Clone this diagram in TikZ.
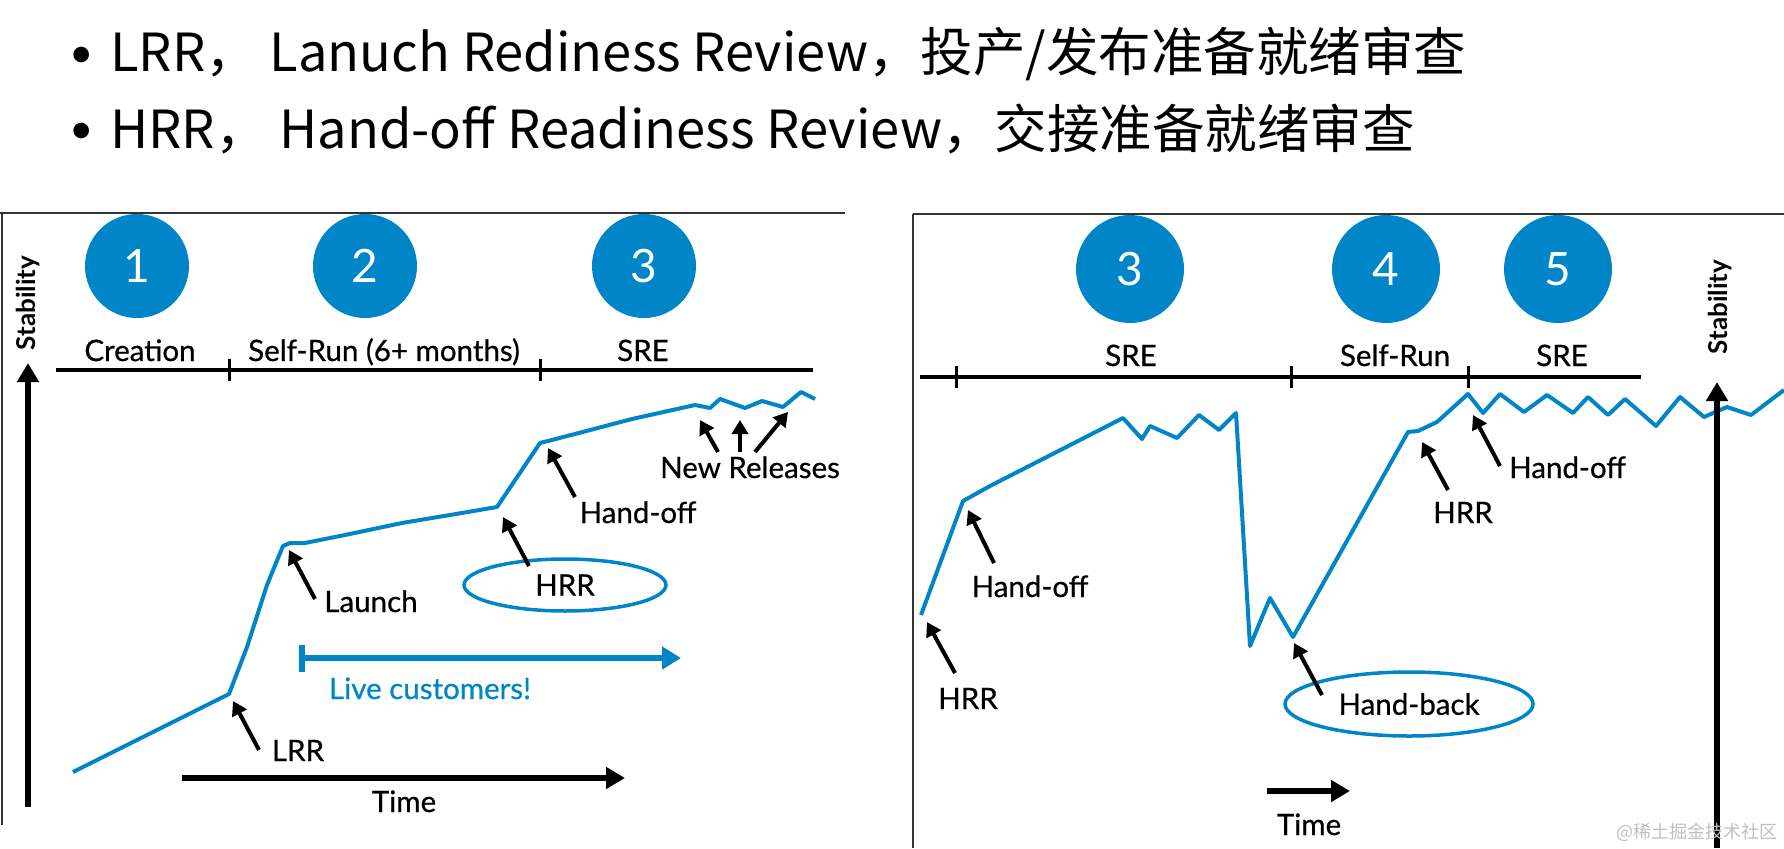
\documentclass[tikz,border=0pt]{standalone}
\usepackage{fontspec}
\setmainfont{Lato}
\newfontfamily\cjkfont{Noto Sans CJK SC}
\newfontfamily\figfont[FakeBold=0.6]{Lato}
\usetikzlibrary{arrows.meta,shapes.geometric}
\definecolor{srblue}{RGB}{0,134,200}
\newcommand{\lblsize}{\figfont\fontsize{29.5}{36}\selectfont}

\begin{document}
\begin{tikzpicture}[x=1pt,y=-1pt,
	curve/.style={srblue, line width=4pt, line join=round},
	phase/.style={circle, fill=srblue, minimum size=104pt, inner sep=0pt, text=white, font=\fontsize{46}{50}\selectfont},
	lbl/.style={anchor=base, inner sep=0pt, font=\lblsize},
	pointer/.style={line width=4pt, -{Triangle[length=14pt,width=16pt]}},
	bigarrow/.style={line width=6pt, -{Triangle[length=19pt,width=21pt]}},
	timeline/.style={line width=3.5pt},
	tick/.style={line width=3pt},
	review/.style={ellipse, draw=srblue, line width=3.5pt, inner sep=0pt, font=\lblsize},
	frame/.style={black!80, line width=2pt},
	axislbl/.style={rotate=90, inner sep=0pt, font=\bfseries\fontsize{26}{30}\selectfont}]
	%%%%% START %%%%%
	\useasboundingbox (0,0) rectangle (1784,848);
	
	% title
	\node[font=\fontsize{42}{42}\selectfont] (bul1) at (82,57) {•};
	\node[font=\fontsize{42}{42}\selectfont] (bul2) at (82,133) {•};
	\node[anchor=base west, inner sep=0pt, font=\cjkfont\fontsize{52.5}{60}\selectfont] (lrrline) at (110,72) {LRR， Lanuch Rediness Review，投产/发布准备就绪审查};
	\node[anchor=base west, inner sep=0pt, font=\cjkfont\fontsize{52.5}{60}\selectfont] (hrrline) at (110,148) {HRR， Hand-off Readiness Review，交接准备就绪审查};
	
	% left panel
	\draw[frame] (0,213) -- (845,213);
	\draw[frame, line width=1.5pt] (2,213) -- (2,825);
	
	\node[phase] (p1) at (137,266) {1};
	\node[phase] (p2) at (365,266) {2};
	\node[phase] (p3) at (644,266) {3};
	
	\node[lbl] (creation) at (140,361) {Creation};
	\node[lbl] (selfrun) at (384,361) {Self-Run (6+ months)};
	\node[lbl] (sreA) at (643,361) {SRE};
	
	\draw[timeline] (56,370) -- (813,370);
	\draw[tick] (229,359) -- (229,381);
	\draw[tick] (540,359) -- (540,381);
	
	\node[axislbl] (stabA) at (28,303) {Stability};
	\coordinate (stabAlo) at (28,807);
	\coordinate (stabAhi) at (28,363);
	
	\draw[curve] (73,772) -- (229,694) -- (247,647) -- (267,585) -- (283,546)
		-- (290,543) -- (305,543) -- (345,535) -- (402,523) -- (450,515) -- (497,507)
		-- (540,443) -- (575,434) -- (632,419) -- (695,405) -- (710,408) -- (720,399)
		-- (745,408) -- (762,401) -- (783,407) -- (801,392) -- (815,399);
	\draw[bigarrow] (stabAlo) -- (stabAhi);
	
	\node[lbl] (lrr) at (298,761) {LRR};
	\coordinate (lrrtail) at (259,750);
	\coordinate (lrrtip) at (233,701);
	\draw[pointer] (lrrtail) -- (lrrtip);
	
	\node[lbl] (launch) at (371,612) {Launch};
	\coordinate (launchtail) at (315,599);
	\coordinate (launchtip) at (289,550);
	\draw[pointer] (launchtail) -- (launchtip);
	
	\node[review, minimum width=202pt, minimum height=52pt] (hrrA) at (565,585) {HRR};
	\coordinate (hrrAtail) at (529,566);
	\coordinate (hrrAtip) at (503,517);
	\draw[pointer] (hrrAtail) -- (hrrAtip);
	
	\node[lbl] (handoffA) at (638,523) {Hand-off};
	\coordinate (handoffAtail) at (575,497);
	\coordinate (handoffAtip) at (548,448);
	\draw[pointer] (handoffAtail) -- (handoffAtip);
	
	\node[lbl] (releases) at (750,478) {New Releases};
	\coordinate (reltailA) at (718,452);
	\coordinate (reltipA) at (700,420);
	\coordinate (reltailB) at (740,452);
	\coordinate (reltipB) at (740,420);
	\coordinate (reltailC) at (755,452);
	\coordinate (reltipC) at (788,412);
	\draw[pointer] (reltailA) -- (reltipA);
	\draw[pointer] (reltailB) -- (reltipB);
	\draw[pointer] (reltailC) -- (reltipC);
	
	\coordinate (livestart) at (299,658);
	\coordinate (liveend) at (681,658);
	\draw[bigarrow, srblue, {Bar[width=27pt]}-{Triangle[length=19pt,width=22pt]}] (livestart) -- (liveend);
	\node[lbl, text=srblue] (live) at (430,699) {Live customers!};
	
	\coordinate (timeAstart) at (182,778);
	\coordinate (timeAend) at (625,778);
	\draw[bigarrow] (timeAstart) -- (timeAend);
	\node[lbl] (timeA) at (404,812) {Time};
	
	% right panel
	\draw[frame, line width=2.5pt] (913,214) -- (1784,214);
	\draw[frame, line width=1.5pt] (913,214) -- (913,848);
	
	\node[phase, minimum size=108pt] (p3r) at (1130,269) {3};
	\node[phase, minimum size=108pt] (p4) at (1386,269) {4};
	\node[phase, minimum size=108pt] (p5) at (1558,269) {5};
	
	\node[lbl] (sreB) at (1131,366) {SRE};
	\node[lbl] (selfrunB) at (1395,366) {Self-Run};
	\node[lbl] (sreC) at (1562,366) {SRE};
	
	\draw[timeline] (920,377) -- (1641,377);
	\draw[tick] (956,366) -- (956,388);
	\draw[tick] (1291,366) -- (1291,388);
	\draw[tick] (1468,366) -- (1468,388);
	
	\draw[curve] (921,615) -- (963,501) -- (990,486) -- (1123,418) -- (1142,439) -- (1150,426)
		-- (1177,438) -- (1199,415) -- (1219,430) -- (1236,413) -- (1250,646) -- (1270,598)
		-- (1293,637) -- (1408,432) -- (1418,431) -- (1437,422) -- (1468,394) -- (1483,413)
		-- (1500,394) -- (1524,412) -- (1547,395) -- (1573,413) -- (1588,397) -- (1608,415)
		-- (1625,399) -- (1656,426) -- (1680,397) -- (1704,417) -- (1727,407) -- (1751,415)
		-- (1784,390);
	
	\node[axislbl] (stabB) at (1720,307) {Stability};
	\coordinate (stabBlo) at (1717,848);
	\coordinate (stabBhi) at (1717,382);
	\draw[bigarrow] (stabBlo) -- (stabBhi);
	
	\node[lbl] (hrrB) at (968,709) {HRR};
	\coordinate (hrrBtail) at (955,673);
	\coordinate (hrrBtip) at (927,622);
	\draw[pointer] (hrrBtail) -- (hrrBtip);
	
	\node[lbl] (handoffB) at (1030,597) {Hand-off};
	\coordinate (handoffBtail) at (994,563);
	\coordinate (handoffBtip) at (968,510);
	\draw[pointer] (handoffBtail) -- (handoffBtip);
	
	\node[review, minimum width=248pt, minimum height=64pt] (handback) at (1409,704) {Hand-back};
	\coordinate (handbacktail) at (1322,695);
	\coordinate (handbacktip) at (1294,643);
	\draw[pointer] (handbacktail) -- (handbacktip);
	
	\node[lbl] (hrrC) at (1463,523) {HRR};
	\coordinate (hrrCtail) at (1448,490);
	\coordinate (hrrCtip) at (1422,442);
	\draw[pointer] (hrrCtail) -- (hrrCtip);
	
	\node[lbl, anchor=base west] (handoffC) at (1509,478) {Hand-off};
	\coordinate (handoffCtail) at (1500,466);
	\coordinate (handoffCtip) at (1473,415);
	\draw[pointer] (handoffCtail) -- (handoffCtip);
	
	\coordinate (timeBstart) at (1267,791);
	\coordinate (timeBend) at (1350,791);
	\draw[bigarrow] (timeBstart) -- (timeBend);
	\node[lbl] (timeB) at (1309,835) {Time};
	
	\node[text=black!25, font=\cjkfont\fontsize{18}{20}\selectfont] (mark) at (1697,832) {@稀土掘金技术社区};
	%%%%% END %%%%%
\end{tikzpicture}
\end{document}
